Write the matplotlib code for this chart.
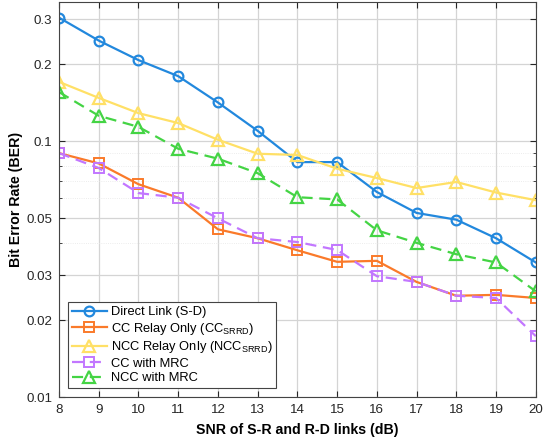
import numpy as np
import matplotlib.pyplot as plt
from matplotlib.ticker import FixedLocator, FixedFormatter, NullFormatter

plt.rcParams['font.family'] = ['Liberation Sans', 'DejaVu Sans']
plt.rcParams['mathtext.default'] = 'regular'

snr = [8, 9, 10, 11, 12, 13, 14, 15, 16, 17, 18, 19, 20]

direct = [0.305, 0.248, 0.208, 0.180, 0.142, 0.110, 0.083, 0.083, 0.0634, 0.0525, 0.0494, 0.0418, 0.0336]
cc_relay = [0.090, 0.082, 0.068, 0.0602, 0.0453, 0.0418, 0.0375, 0.0338, 0.0341, 0.0282, 0.0249, 0.0251, 0.0244]
ncc_relay = [0.171, 0.148, 0.129, 0.118, 0.1015, 0.0895, 0.0885, 0.0782, 0.0719, 0.0657, 0.0694, 0.0631, 0.0589]
cc_mrc = [0.090, 0.0787, 0.0628, 0.0602, 0.050, 0.0418, 0.0404, 0.0376, 0.0297, 0.0282, 0.0249, 0.0244, 0.0173]
ncc_mrc = [0.156, 0.126, 0.114, 0.0936, 0.0856, 0.0751, 0.0605, 0.0593, 0.0449, 0.0401, 0.0362, 0.0336, 0.0259]

yticks = [0.01, 0.02, 0.03, 0.05, 0.1, 0.2, 0.3]
ytick_labels = ['0.01', '0.02', '0.03', '0.05', '0.1', '0.2', '0.3']
yminor = [0.04, 0.06, 0.07, 0.08, 0.09]

fig = plt.figure(figsize=(5.43, 4.38), dpi=100)
ax = fig.add_axes([0.1087, 0.0936, 0.878, 0.901])

lw = 1.6
dash = (0, (5, 3))
ax.plot(snr, direct, color='#2288dd', lw=lw, marker='o', ms=7, mfc='none', mew=1.6,
        label='Direct Link (S-D)')
ax.plot(snr, cc_relay, color='#fa7a2a', lw=lw, marker='s', ms=6.5, mfc='none', mew=1.4,
        label='CC Relay Only (CC$_{SRRD}$)')
ax.plot(snr, ncc_relay, color='#ffe066', lw=lw, marker='^', ms=9, mfc='none', mew=1.6,
        label='NCC Relay Only (NCC$_{SRRD}$)')
ax.plot(snr, cc_mrc, color='#c277ff', lw=lw, ls=dash, marker='s', ms=6.5, mfc='none', mew=1.4,
        label='CC with MRC')
ax.plot(snr, ncc_mrc, color='#44d444', lw=lw, ls=dash, marker='^', ms=9, mfc='none', mew=1.6,
        label='NCC with MRC')

ax.set_yscale('log')
ax.set_xlim(8, 20)
ax.set_ylim(0.01, 0.35)
ax.set_xticks(snr)
ax.yaxis.set_major_locator(FixedLocator(yticks))
ax.yaxis.set_major_formatter(FixedFormatter(ytick_labels))
ax.yaxis.set_minor_locator(FixedLocator(yminor))
ax.yaxis.set_minor_formatter(NullFormatter())

ax.grid(True, which='major', color='#d4d4d4', lw=0.9)
ax.grid(True, which='minor', axis='y', color='#e6e6e6', lw=0.6, ls=':')
ax.set_axisbelow(True)

ax.tick_params(which='both', direction='in', top=True, right=True, labelsize=9.6,
               colors='#262626', length=4, pad=5)
ax.tick_params(which='minor', length=2)
for s in ax.spines.values():
    s.set_color('#444444')
    s.set_linewidth(0.8)

ax.set_xlabel('SNR of S-R and R-D links (dB)', fontsize=10.2, fontweight='bold')
ax.set_ylabel('Bit Error Rate (BER)', fontsize=10.2, fontweight='bold')
ax.xaxis.labelpad = 5
ax.yaxis.labelpad = 2

leg = ax.legend(loc='lower left', bbox_to_anchor=(0.019, 0.022), fontsize=9.3, handlelength=2.7,
                handletextpad=0.3, labelspacing=0.2, borderpad=0.3, borderaxespad=0,
                fancybox=False, framealpha=1, edgecolor='#444444')
leg.get_frame().set_linewidth(0.8)

fig.savefig('out.png', dpi=100)
